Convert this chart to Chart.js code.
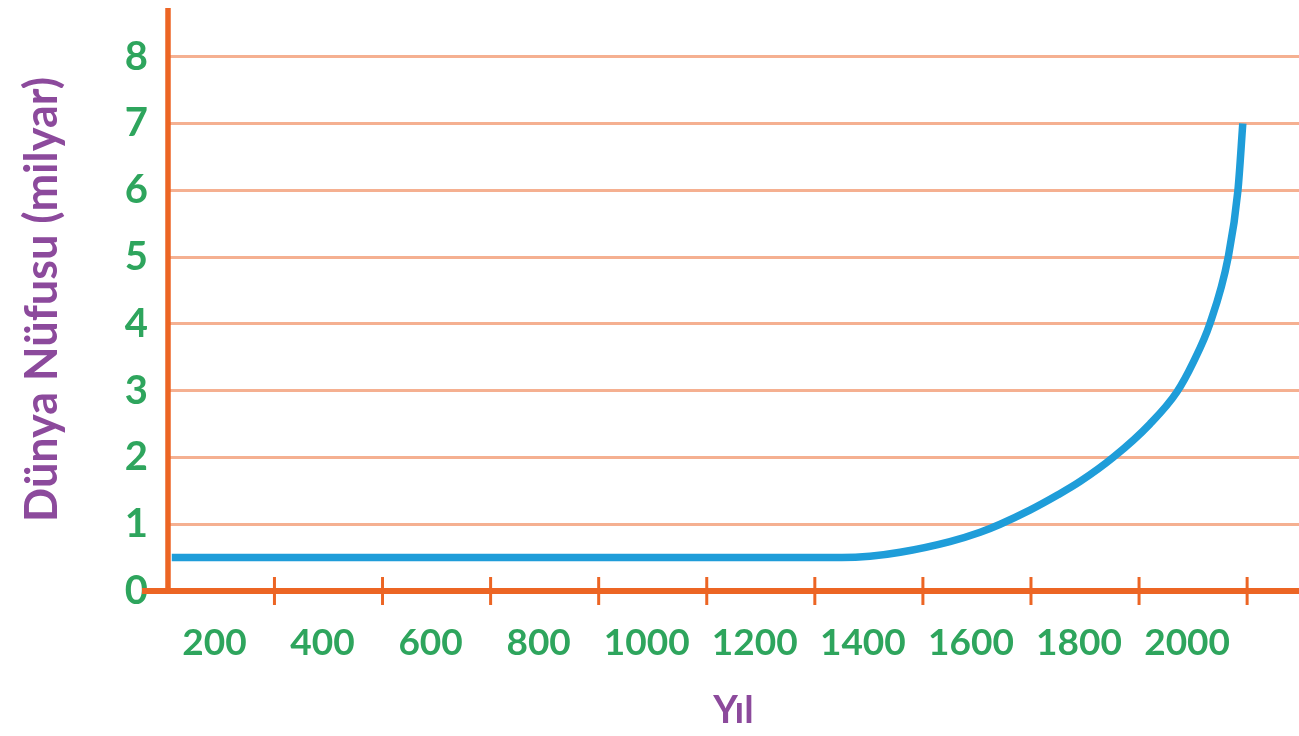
<!DOCTYPE html>
<html>
<head>
<meta charset="utf-8">
<script src="https://cdn.jsdelivr.net/npm/chart.js@4"></script>
<style>
  html, body { margin: 0; padding: 0; background: #fff; }
  #wrap { width: 1299px; height: 736px; }
</style>
</head>
<body>
<div id="wrap"><canvas id="chart"></canvas></div>
<script>
// values
const years = [110, 600, 1000, 1350, 1402, 1458, 1550, 1606, 1643, 1698, 1750, 1791, 1852, 1920, 1970, 2000, 2031, 2065, 2083, 2092];
const population = [0.5, 0.5, 0.5, 0.5, 0.52, 0.58, 0.74, 0.88, 1.0, 1.21, 1.44, 1.64, 2.0, 2.5, 2.98, 3.42, 4.0, 5.0, 6.0, 7.0];
const labelYears = [200, 400, 600, 800, 1000, 1200, 1400, 1600, 1800, 2000];
const tickYears = [300, 500, 700, 900, 1100, 1300, 1500, 1700, 1900, 2100];
const yTicks = [0, 1, 2, 3, 4, 5, 6, 7, 8];

const green = '#2ea55d';
const purple = '#8c4a9c';
const orange = '#ec6524';
const gridColor = '#f5b091';
const blue = '#1f9dd9';

// axis lines and the crossing tick marks
const axisCross = {
  id: 'axisCross',
  beforeDatasetsDraw(chart) {
    const { ctx, chartArea, scales: { x, y } } = chart;
    const y0 = y.getPixelForValue(0);
    ctx.save();
    ctx.strokeStyle = orange;
    ctx.lineWidth = 6;
    ctx.beginPath();
    ctx.moveTo(chartArea.left - 26, y0);
    ctx.lineTo(chartArea.right, y0);
    ctx.stroke();
    ctx.lineWidth = 5.5;
    ctx.beginPath();
    ctx.moveTo(chartArea.left, chartArea.top);
    ctx.lineTo(chartArea.left, y0 + 3);
    ctx.stroke();
    ctx.lineWidth = 3;
    tickYears.forEach(v => {
      const px = x.getPixelForValue(v);
      ctx.beginPath();
      ctx.moveTo(px, y0 - 14);
      ctx.lineTo(px, y0 + 14);
      ctx.stroke();
    });
    ctx.restore();
  }
};

new Chart(document.getElementById('chart'), {
  type: 'line',
  data: {
    datasets: [{
      data: years.map((yr, i) => ({ x: yr, y: population[i] })),
      borderColor: blue,
      borderWidth: 7.5,
      pointRadius: 0,
      cubicInterpolationMode: 'monotone',
      fill: false,
    }],
  },
  options: {
    responsive: true,
    maintainAspectRatio: false,
    animation: false,
    layout: { padding: { top: 8, left: 0, right: 0, bottom: 0 } },
    plugins: {
      legend: { display: false },
      tooltip: { enabled: false },
    },
    scales: {
      x: {
        type: 'linear',
        min: 103,
        max: 2196,
        afterBuildTicks: s => { s.ticks = labelYears.map(v => ({ value: v })); },
        afterFit: s => {
          s.height = 145;
          s.paddingLeft = 0;
          s.paddingRight = 0;
        },
        grid: { display: false },
        border: { display: false },
        ticks: {
          color: green,
          font: { family: 'Lato', size: 37, weight: 'bold' },
          padding: 22,
          labelOffset: -6,
          maxRotation: 0,
          autoSkip: false,
          callback: v => String(v),
        },
        title: {
          display: true,
          text: 'Yıl',
          color: purple,
          font: { family: 'Lato', size: 38, weight: 'bold' },
          padding: { top: 0, bottom: 2 },
        },
      },
      y: {
        min: 0,
        max: 8.73,
        afterBuildTicks: s => { s.ticks = yTicks.map(v => ({ value: v })); },
        afterFit: s => {
          s.width = 168;
          s.paddingTop = 0;
          s.paddingBottom = 0;
        },
        grid: {
          color: c => (c.tick && c.tick.value === 0 ? 'rgba(0,0,0,0)' : gridColor),
          lineWidth: 3,
          drawTicks: false,
        },
        border: { display: false },
        ticks: {
          color: green,
          font: { family: 'Lato', size: 40, weight: 'bold' },
          padding: 20,
        },
        title: {
          display: true,
          text: 'Dünya Nüfusu (milyar)',
          color: purple,
          font: { family: 'Lato', size: 45, weight: 'bold' },
          padding: { top: 15, bottom: 0 },
        },
      },
    },
  },
  plugins: [axisCross],
});
</script>
</body>
</html>
